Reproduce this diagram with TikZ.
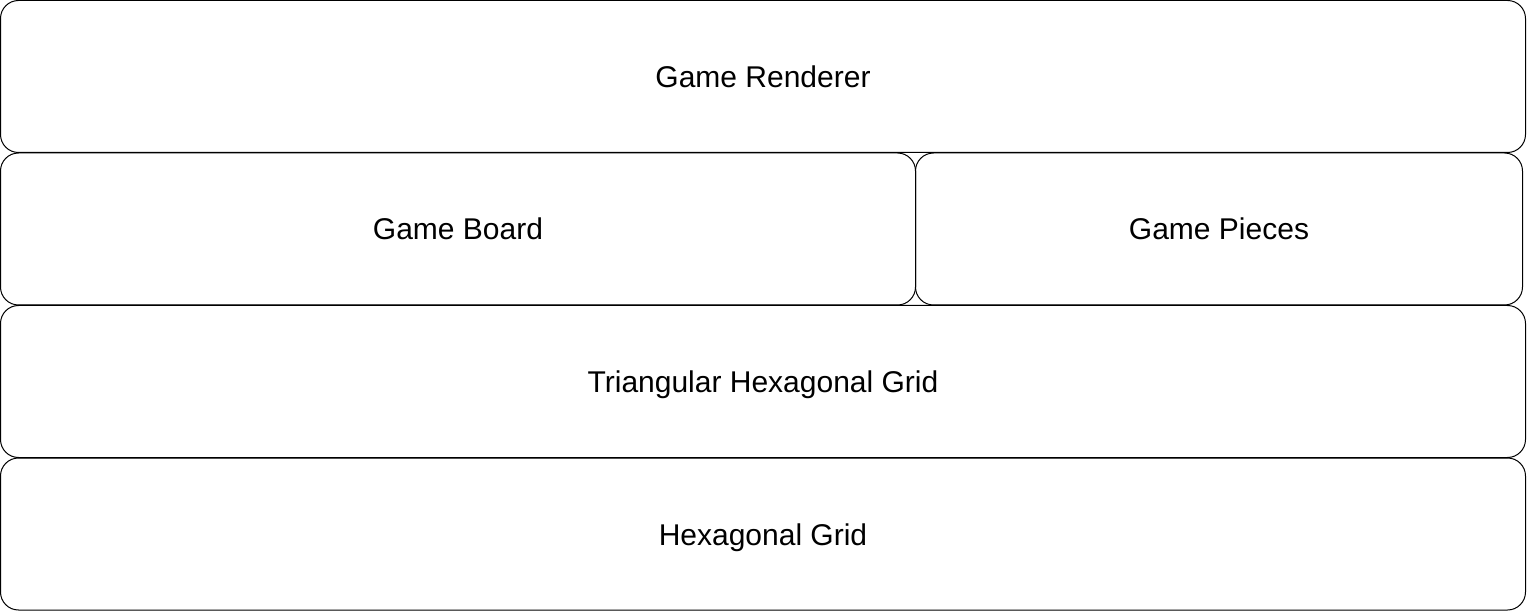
\documentclass[tikz,border=0pt]{standalone}
\usepackage{fontspec}
\setmainfont{Liberation Sans}
\begin{document}
\begin{tikzpicture}[x=1pt,y=-1pt,
  layerbox/.style={draw=black, line width=1pt, rounded corners=18pt, inner sep=0pt, outer sep=0pt, text height=22pt, text depth=0pt, font=\fontsize{30}{36}\selectfont}]
\useasboundingbox (0,0) rectangle (1527,612);
\node[layerbox, minimum width=1525pt, minimum height=152pt] (renderer) at (763,76.5) {Game Renderer};
\node[layerbox, minimum width=915pt, minimum height=152pt] (board) at (458,229) {Game Board};
\node[layerbox, minimum width=607pt, minimum height=152pt] (pieces) at (1219,229) {Game Pieces};
\node[layerbox, minimum width=1525pt, minimum height=152pt] (trigrid) at (763,381.5) {Triangular Hexagonal Grid};
\node[layerbox, minimum width=1525pt, minimum height=152pt] (hexgrid) at (763,534) {Hexagonal Grid};
\end{tikzpicture}
\end{document}
